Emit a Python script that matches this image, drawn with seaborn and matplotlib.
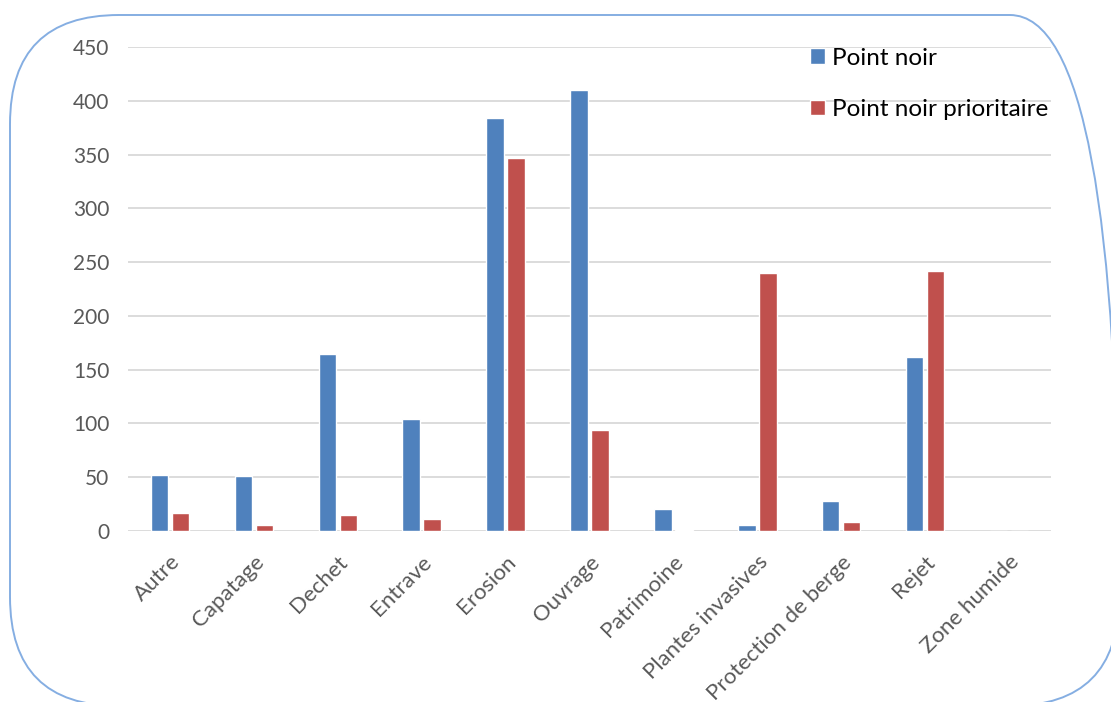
import pandas as pd
import seaborn as sns
import matplotlib.pyplot as plt
from matplotlib.patches import FancyBboxPatch
from matplotlib.transforms import IdentityTransform

categories = ["Autre", "Capatage", "Dechet", "Entrave", "Erosion", "Ouvrage",
              "Patrimoine", "Plantes invasives", "Protection de berge", "Rejet",
              "Zone humide"]
point_noir = [52, 51, 165, 104, 384, 410, 20, 6, 28, 162, 0]
point_noir_prio = [17, 6, 15, 11, 347, 94, 1, 240, 8, 242, 0]
series = ["Point noir", "Point noir prioritaire"]

df = pd.DataFrame({
    "categorie": categories * 2,
    "valeur": point_noir + point_noir_prio,
    "serie": [series[0]] * len(categories) + [series[1]] * len(categories),
})

sns.set_style("white")
plt.rcParams["font.family"] = ["Lato", "DejaVu Sans"]

fig = plt.figure(figsize=(11.11, 7.02), dpi=100)
ax = fig.add_axes([128 / 1111, 1 - 531 / 702, 923 / 1111, 484 / 702])

sns.barplot(
    data=df, x="categorie", y="valeur", hue="serie",
    palette=["#4F81BD", "#C0504D"], saturation=1, width=0.5, gap=0.17,
    order=categories, hue_order=series, ax=ax, zorder=3,
)

ax.set_ylim(0, 450)
ax.set_yticks(range(0, 451, 50))
ax.set_xlim(-0.5, len(categories) - 0.5)
ax.grid(axis="y", color="#D9D9D9", linewidth=1.3, zorder=0)
for s in ax.spines.values():
    s.set_visible(False)
ax.set_xlabel("")
ax.set_ylabel("")
ax.tick_params(axis="y", colors="#595959", labelsize=15, length=0, pad=13.5)
ax.tick_params(axis="x", colors="#595959", labelsize=16, length=0, pad=15)
plt.setp(ax.get_xticklabels(), rotation=45, ha="right", rotation_mode="anchor")

leg = ax.legend(
    loc="upper left", bbox_to_anchor=(800 / 1111, 1 - 38 / 702),
    bbox_transform=fig.transFigure, frameon=False, fontsize=17.5,
    handlelength=0.62, handleheight=0.62, handletextpad=0.3,
    labelspacing=1.25, borderaxespad=0,
)
for t in leg.get_texts():
    t.set_color("#000000")

# cadre arrondi autour du graphique (coordonnées en pixels)
box = FancyBboxPatch(
    (10, -4), 1109, 691,
    boxstyle="round,pad=0,rounding_size=109",
    transform=IdentityTransform(), facecolor="none",
    edgecolor="#85AEE2", linewidth=1.4,
)
fig.add_artist(box)

fig.savefig("out.png", dpi=100)
